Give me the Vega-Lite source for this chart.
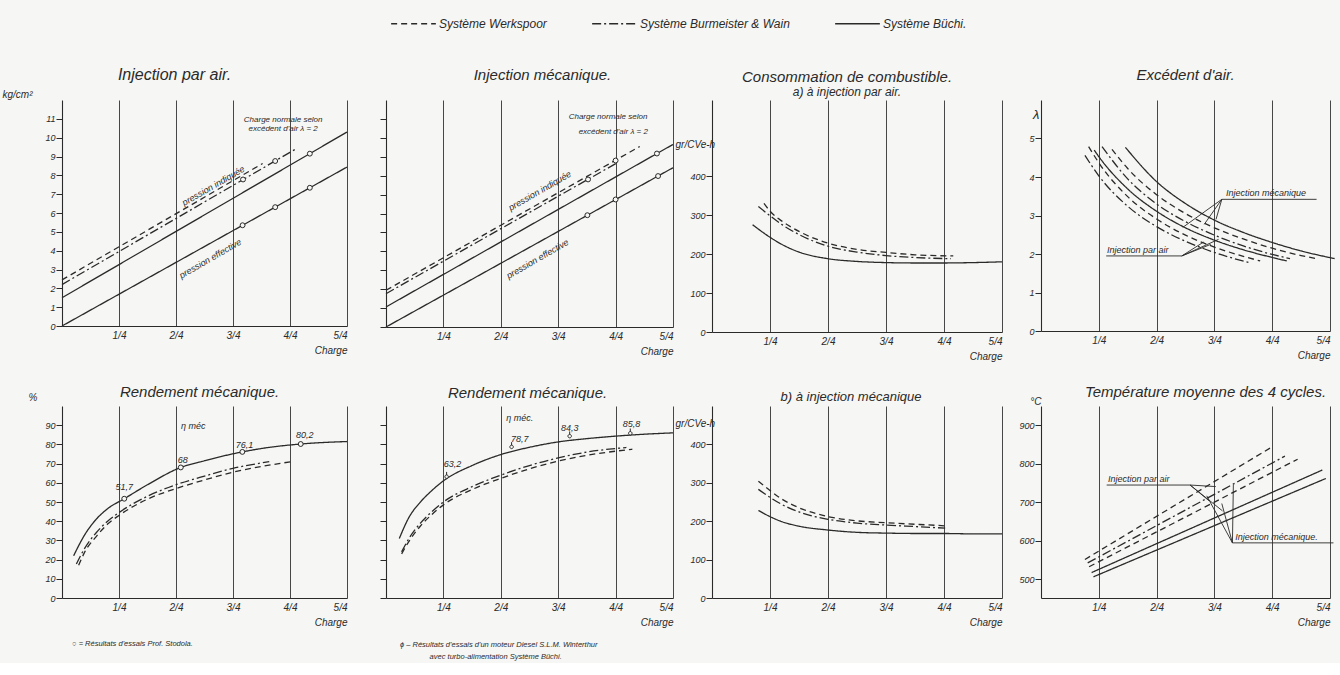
{
  "$schema": "https://vega.github.io/schema/vega-lite/v6.json",
  "background": "#f6f6f4",
  "padding": {"left": 2, "top": 0, "right": 2, "bottom": 2},
  "config": {
    "font": "Liberation Sans",
    "view": {"stroke": null},
    "title": {"fontSize": 15, "fontStyle": "italic", "fontWeight": "normal", "color": "#2a2a2a", "frame": "group", "anchor": "middle", "subtitleFontStyle": "italic", "subtitleFontSize": 12, "subtitleColor": "#2a2a2a", "subtitlePadding": 2},
    "axis": {"domainColor": "#2a2a2a", "domainWidth": 1.1, "tickColor": "#2a2a2a", "tickWidth": 1, "labelFontStyle": "italic", "labelColor": "#2a2a2a", "titleFontStyle": "italic", "titleFontWeight": "normal", "titleColor": "#2a2a2a", "gridColor": "#333333", "gridWidth": 0.9, "gridOpacity": 1},
    "axisX": {"grid": true, "ticks": false, "labelFontSize": 10, "labelPadding": 4, "titleFontSize": 10, "titleAnchor": "end", "titleAlign": "right", "titlePadding": 5},
    "axisY": {"grid": false, "tickSize": 6, "labelFontSize": 9, "labelPadding": 1, "titleAngle": 0, "titleAlign": "left", "titleBaseline": "alphabetic", "titleFontSize": 10},
    "line": {"color": "#2a2a2a", "strokeWidth": 1.3, "interpolate": "monotone"},
    "rule": {"color": "#2a2a2a", "strokeWidth": 0.9},
    "text": {"color": "#2a2a2a", "fontStyle": "italic", "fontSize": 9},
    "point": {"shape": "circle", "size": 24, "filled": true, "fill": "#f6f6f4", "stroke": "#2a2a2a", "strokeWidth": 1, "opacity": 1},
    "legend": {"orient": "none", "legendX": 328, "legendY": -100, "direction": "horizontal", "symbolType": "stroke", "symbolSize": 2000, "symbolStrokeWidth": 1.3, "symbolStrokeColor": "#2a2a2a", "labelFontStyle": "italic", "labelFontSize": 12, "labelColor": "#2a2a2a", "columnPadding": 42, "labelOffset": 2}
  },
  "datasets": {
    "l1": [
      {"c": "a", "s": "Système Werkspoor", "x": 0, "y": 2.45}, {"c": "a", "s": "Système Werkspoor", "x": 0.88, "y": 8.63},
      {"c": "b", "s": "Système Burmeister & Wain", "x": 0, "y": 2.2}, {"c": "b", "s": "Système Burmeister & Wain", "x": 1.03, "y": 9.43},
      {"c": "c", "s": "Système Büchi.", "x": 0, "y": 1.5}, {"c": "c", "s": "Système Büchi.", "x": 1.25, "y": 10.3},
      {"c": "d", "s": "Système Büchi.", "x": 0, "y": 0}, {"c": "d", "s": "Système Büchi.", "x": 1.25, "y": 8.44}
    ],
    "m1": [{"x": 0.794, "y": 7.78}, {"x": 0.935, "y": 8.76}, {"x": 1.087, "y": 9.15}, {"x": 0.792, "y": 5.35}, {"x": 0.935, "y": 6.31}, {"x": 1.087, "y": 7.34}],
    "r1": [{"x": 0.664, "y": 7.45, "t": "pression indiquée"}, {"x": 0.65, "y": 3.58, "t": "pression effective"}],
    "n1": [{"x": 0.97, "y": 10.96, "t": "Charge normale selon"}, {"x": 0.97, "y": 10.48, "t": "excédent d'air λ = 2"}],
    "l2": [
      {"c": "a", "s": "Système Werkspoor", "x": 0, "y": 1.94}, {"c": "a", "s": "Système Werkspoor", "x": 1.105, "y": 9.54},
      {"c": "b", "s": "Système Burmeister & Wain", "x": 0, "y": 1.76}, {"c": "b", "s": "Système Burmeister & Wain", "x": 1.01, "y": 8.7},
      {"c": "c", "s": "Système Büchi.", "x": 0, "y": 1.06}, {"c": "c", "s": "Système Büchi.", "x": 1.25, "y": 9.65},
      {"c": "d", "s": "Système Büchi.", "x": 0, "y": 0}, {"c": "d", "s": "Système Büchi.", "x": 1.25, "y": 8.42}
    ],
    "m2": [{"x": 0.88, "y": 7.8}, {"x": 1.0, "y": 8.8}, {"x": 1.18, "y": 9.17}, {"x": 0.877, "y": 5.91}, {"x": 1.0, "y": 6.74}, {"x": 1.185, "y": 7.98}],
    "r2": [{"x": 0.67, "y": 7.2, "t": "pression indiquée"}, {"x": 0.66, "y": 3.6, "t": "pression effective"}],
    "n2": [{"x": 0.967, "y": 11.1, "t": "Charge normale selon"}, {"x": 0.99, "y": 10.33, "t": "excédent d'air λ = 2"}],
    "l3": [
      {"c": "a", "s": "Système Werkspoor", "x": 0.224, "y": 330}, {"c": "a", "s": "Système Werkspoor", "x": 0.25, "y": 310}, {"c": "a", "s": "Système Werkspoor", "x": 0.3, "y": 285}, {"c": "a", "s": "Système Werkspoor", "x": 0.375, "y": 258}, {"c": "a", "s": "Système Werkspoor", "x": 0.5, "y": 228}, {"c": "a", "s": "Système Werkspoor", "x": 0.625, "y": 212}, {"c": "a", "s": "Système Werkspoor", "x": 0.75, "y": 204}, {"c": "a", "s": "Système Werkspoor", "x": 0.875, "y": 198}, {"c": "a", "s": "Système Werkspoor", "x": 1.04, "y": 195},
      {"c": "b", "s": "Système Burmeister & Wain", "x": 0.2, "y": 322}, {"c": "b", "s": "Système Burmeister & Wain", "x": 0.25, "y": 298}, {"c": "b", "s": "Système Burmeister & Wain", "x": 0.3, "y": 276}, {"c": "b", "s": "Système Burmeister & Wain", "x": 0.375, "y": 250}, {"c": "b", "s": "Système Burmeister & Wain", "x": 0.5, "y": 220}, {"c": "b", "s": "Système Burmeister & Wain", "x": 0.625, "y": 205}, {"c": "b", "s": "Système Burmeister & Wain", "x": 0.75, "y": 196}, {"c": "b", "s": "Système Burmeister & Wain", "x": 0.875, "y": 191}, {"c": "b", "s": "Système Burmeister & Wain", "x": 1.03, "y": 188},
      {"c": "c", "s": "Système Büchi.", "x": 0.175, "y": 275}, {"c": "c", "s": "Système Büchi.", "x": 0.25, "y": 243}, {"c": "c", "s": "Système Büchi.", "x": 0.3, "y": 225}, {"c": "c", "s": "Système Büchi.", "x": 0.375, "y": 205}, {"c": "c", "s": "Système Büchi.", "x": 0.5, "y": 188}, {"c": "c", "s": "Système Büchi.", "x": 0.625, "y": 181}, {"c": "c", "s": "Système Büchi.", "x": 0.75, "y": 178}, {"c": "c", "s": "Système Büchi.", "x": 0.875, "y": 177}, {"c": "c", "s": "Système Büchi.", "x": 1.0, "y": 177}, {"c": "c", "s": "Système Büchi.", "x": 1.125, "y": 178}, {"c": "c", "s": "Système Büchi.", "x": 1.25, "y": 180}
    ],
    "l4": [
      {"c": "a", "s": "Système Burmeister & Wain", "x": 0.19, "y": 4.56}, {"c": "a", "s": "Système Burmeister & Wain", "x": 0.25, "y": 4.03}, {"c": "a", "s": "Système Burmeister & Wain", "x": 0.375, "y": 3.24}, {"c": "a", "s": "Système Burmeister & Wain", "x": 0.5, "y": 2.71}, {"c": "a", "s": "Système Burmeister & Wain", "x": 0.625, "y": 2.33}, {"c": "a", "s": "Système Burmeister & Wain", "x": 0.75, "y": 2.04}, {"c": "a", "s": "Système Burmeister & Wain", "x": 0.897, "y": 1.78},
      {"c": "b", "s": "Système Werkspoor", "x": 0.206, "y": 4.79}, {"c": "b", "s": "Système Werkspoor", "x": 0.25, "y": 4.37}, {"c": "b", "s": "Système Werkspoor", "x": 0.375, "y": 3.49}, {"c": "b", "s": "Système Werkspoor", "x": 0.5, "y": 2.91}, {"c": "b", "s": "Système Werkspoor", "x": 0.625, "y": 2.49}, {"c": "b", "s": "Système Werkspoor", "x": 0.75, "y": 2.18}, {"c": "b", "s": "Système Werkspoor", "x": 0.875, "y": 1.94}, {"c": "b", "s": "Système Werkspoor", "x": 0.948, "y": 1.82},
      {"c": "c", "s": "Système Büchi.", "x": 0.23, "y": 4.7}, {"c": "c", "s": "Système Büchi.", "x": 0.25, "y": 4.53}, {"c": "c", "s": "Système Büchi.", "x": 0.375, "y": 3.69}, {"c": "c", "s": "Système Büchi.", "x": 0.5, "y": 3.11}, {"c": "c", "s": "Système Büchi.", "x": 0.625, "y": 2.68}, {"c": "c", "s": "Système Büchi.", "x": 0.75, "y": 2.36}, {"c": "c", "s": "Système Büchi.", "x": 0.875, "y": 2.11}, {"c": "c", "s": "Système Büchi.", "x": 1.0, "y": 1.91}, {"c": "c", "s": "Système Büchi.", "x": 1.063, "y": 1.82},
      {"c": "d", "s": "Système Burmeister & Wain", "x": 0.264, "y": 4.79}, {"c": "d", "s": "Système Burmeister & Wain", "x": 0.375, "y": 3.95}, {"c": "d", "s": "Système Burmeister & Wain", "x": 0.5, "y": 3.3}, {"c": "d", "s": "Système Burmeister & Wain", "x": 0.625, "y": 2.84}, {"c": "d", "s": "Système Burmeister & Wain", "x": 0.75, "y": 2.49}, {"c": "d", "s": "Système Burmeister & Wain", "x": 0.875, "y": 2.21}, {"c": "d", "s": "Système Burmeister & Wain", "x": 1.0, "y": 1.99}, {"c": "d", "s": "Système Burmeister & Wain", "x": 1.077, "y": 1.88},
      {"c": "e", "s": "Système Werkspoor", "x": 0.307, "y": 4.72}, {"c": "e", "s": "Système Werkspoor", "x": 0.375, "y": 4.22}, {"c": "e", "s": "Système Werkspoor", "x": 0.5, "y": 3.54}, {"c": "e", "s": "Système Werkspoor", "x": 0.625, "y": 3.05}, {"c": "e", "s": "Système Werkspoor", "x": 0.75, "y": 2.68}, {"c": "e", "s": "Système Werkspoor", "x": 0.875, "y": 2.39}, {"c": "e", "s": "Système Werkspoor", "x": 1.0, "y": 2.15}, {"c": "e", "s": "Système Werkspoor", "x": 1.125, "y": 1.96}, {"c": "e", "s": "Système Werkspoor", "x": 1.2, "y": 1.87},
      {"c": "f", "s": "Système Büchi.", "x": 0.365, "y": 4.77}, {"c": "f", "s": "Système Büchi.", "x": 0.5, "y": 3.88}, {"c": "f", "s": "Système Büchi.", "x": 0.625, "y": 3.31}, {"c": "f", "s": "Système Büchi.", "x": 0.75, "y": 2.88}, {"c": "f", "s": "Système Büchi.", "x": 0.875, "y": 2.56}, {"c": "f", "s": "Système Büchi.", "x": 1.0, "y": 2.3}, {"c": "f", "s": "Système Büchi.", "x": 1.125, "y": 2.08}, {"c": "f", "s": "Système Büchi.", "x": 1.27, "y": 1.88}
    ],
    "g4": [
      {"x": 0.782, "y": 3.42, "x2": 1.192, "y2": 3.42}, {"x": 0.782, "y": 3.42, "x2": 0.613, "y2": 2.69}, {"x": 0.782, "y": 3.42, "x2": 0.706, "y2": 2.77}, {"x": 0.782, "y": 3.42, "x2": 0.757, "y2": 2.9},
      {"x": 0.282, "y": 1.95, "x2": 0.609, "y2": 1.95}, {"x": 0.609, "y": 1.95, "x2": 0.703, "y2": 2.31}, {"x": 0.609, "y": 1.95, "x2": 0.734, "y2": 2.25}, {"x": 0.609, "y": 1.95, "x2": 0.768, "y2": 2.38}
    ],
    "n4": [{"x": 0.8, "y": 3.45, "t": "Injection mécanique"}, {"x": 0.285, "y": 1.98, "t": "Injection par air"}],
    "l5": [
      {"c": "a", "s": "Système Büchi.", "x": 0.051, "y": 22}, {"c": "a", "s": "Système Büchi.", "x": 0.1, "y": 33}, {"c": "a", "s": "Système Büchi.", "x": 0.15, "y": 41}, {"c": "a", "s": "Système Büchi.", "x": 0.2, "y": 46.5}, {"c": "a", "s": "Système Büchi.", "x": 0.273, "y": 51.7}, {"c": "a", "s": "Système Büchi.", "x": 0.375, "y": 59}, {"c": "a", "s": "Système Büchi.", "x": 0.521, "y": 68}, {"c": "a", "s": "Système Büchi.", "x": 0.625, "y": 71.5}, {"c": "a", "s": "Système Büchi.", "x": 0.791, "y": 76.1}, {"c": "a", "s": "Système Büchi.", "x": 0.9, "y": 78.3}, {"c": "a", "s": "Système Büchi.", "x": 1.047, "y": 80.2}, {"c": "a", "s": "Système Büchi.", "x": 1.25, "y": 81.5},
      {"c": "b", "s": "Système Burmeister & Wain", "x": 0.063, "y": 17.7}, {"c": "b", "s": "Système Burmeister & Wain", "x": 0.1, "y": 26}, {"c": "b", "s": "Système Burmeister & Wain", "x": 0.15, "y": 34}, {"c": "b", "s": "Système Burmeister & Wain", "x": 0.2, "y": 40}, {"c": "b", "s": "Système Burmeister & Wain", "x": 0.25, "y": 44.5}, {"c": "b", "s": "Système Burmeister & Wain", "x": 0.375, "y": 53}, {"c": "b", "s": "Système Burmeister & Wain", "x": 0.5, "y": 59}, {"c": "b", "s": "Système Burmeister & Wain", "x": 0.625, "y": 63.5}, {"c": "b", "s": "Système Burmeister & Wain", "x": 0.75, "y": 67.5}, {"c": "b", "s": "Système Burmeister & Wain", "x": 0.909, "y": 71},
      {"c": "c", "s": "Système Werkspoor", "x": 0.073, "y": 17}, {"c": "c", "s": "Système Werkspoor", "x": 0.1, "y": 24}, {"c": "c", "s": "Système Werkspoor", "x": 0.15, "y": 32}, {"c": "c", "s": "Système Werkspoor", "x": 0.2, "y": 38.5}, {"c": "c", "s": "Système Werkspoor", "x": 0.25, "y": 43}, {"c": "c", "s": "Système Werkspoor", "x": 0.375, "y": 51.5}, {"c": "c", "s": "Système Werkspoor", "x": 0.5, "y": 57}, {"c": "c", "s": "Système Werkspoor", "x": 0.625, "y": 61.5}, {"c": "c", "s": "Système Werkspoor", "x": 0.75, "y": 65.5}, {"c": "c", "s": "Système Werkspoor", "x": 0.875, "y": 68.5}, {"c": "c", "s": "Système Werkspoor", "x": 1.006, "y": 71}
    ],
    "m5": [{"x": 0.273, "y": 51.7}, {"x": 0.521, "y": 68}, {"x": 0.791, "y": 76.1}, {"x": 1.047, "y": 80.2}],
    "n5": [{"x": 0.273, "y": 57.6, "t": "51,7"}, {"x": 0.53, "y": 71.8, "t": "68"}, {"x": 0.8, "y": 79.8, "t": "76,1"}, {"x": 1.065, "y": 84.8, "t": "80,2"}, {"x": 0.576, "y": 89.6, "t": "η méc"}],
    "f5": [{"x": 0.044, "y": -24, "t": "○ = Résultats d'essais Prof. Stodola."}],
    "l6": [
      {"c": "a", "s": "Système Büchi.", "x": 0.058, "y": 31}, {"c": "a", "s": "Système Büchi.", "x": 0.1, "y": 42}, {"c": "a", "s": "Système Büchi.", "x": 0.15, "y": 50}, {"c": "a", "s": "Système Büchi.", "x": 0.2, "y": 56}, {"c": "a", "s": "Système Büchi.", "x": 0.25, "y": 61}, {"c": "a", "s": "Système Büchi.", "x": 0.375, "y": 69}, {"c": "a", "s": "Système Büchi.", "x": 0.5, "y": 74.7}, {"c": "a", "s": "Système Büchi.", "x": 0.625, "y": 78.5}, {"c": "a", "s": "Système Büchi.", "x": 0.75, "y": 81.3}, {"c": "a", "s": "Système Büchi.", "x": 0.875, "y": 83}, {"c": "a", "s": "Système Büchi.", "x": 1.0, "y": 84.3}, {"c": "a", "s": "Système Büchi.", "x": 1.125, "y": 85.3}, {"c": "a", "s": "Système Büchi.", "x": 1.25, "y": 86},
      {"c": "b", "s": "Système Burmeister & Wain", "x": 0.068, "y": 24}, {"c": "b", "s": "Système Burmeister & Wain", "x": 0.1, "y": 31}, {"c": "b", "s": "Système Burmeister & Wain", "x": 0.15, "y": 39}, {"c": "b", "s": "Système Burmeister & Wain", "x": 0.2, "y": 45}, {"c": "b", "s": "Système Burmeister & Wain", "x": 0.25, "y": 50}, {"c": "b", "s": "Système Burmeister & Wain", "x": 0.375, "y": 58}, {"c": "b", "s": "Système Burmeister & Wain", "x": 0.5, "y": 64}, {"c": "b", "s": "Système Burmeister & Wain", "x": 0.625, "y": 69}, {"c": "b", "s": "Système Burmeister & Wain", "x": 0.75, "y": 73}, {"c": "b", "s": "Système Burmeister & Wain", "x": 0.875, "y": 76}, {"c": "b", "s": "Système Burmeister & Wain", "x": 1.047, "y": 78.4},
      {"c": "c", "s": "Système Werkspoor", "x": 0.068, "y": 23}, {"c": "c", "s": "Système Werkspoor", "x": 0.1, "y": 29.5}, {"c": "c", "s": "Système Werkspoor", "x": 0.15, "y": 37.5}, {"c": "c", "s": "Système Werkspoor", "x": 0.2, "y": 43.5}, {"c": "c", "s": "Système Werkspoor", "x": 0.25, "y": 48.5}, {"c": "c", "s": "Système Werkspoor", "x": 0.375, "y": 56.5}, {"c": "c", "s": "Système Werkspoor", "x": 0.5, "y": 62.3}, {"c": "c", "s": "Système Werkspoor", "x": 0.625, "y": 67.3}, {"c": "c", "s": "Système Werkspoor", "x": 0.75, "y": 71.3}, {"c": "c", "s": "Système Werkspoor", "x": 0.875, "y": 74.3}, {"c": "c", "s": "Système Werkspoor", "x": 1.073, "y": 77.5}
    ],
    "m6": [{"x": 0.264, "y": 63.2}, {"x": 0.547, "y": 78.7}, {"x": 0.8, "y": 84.3}, {"x": 1.064, "y": 85.8}],
    "n6": [{"x": 0.29, "y": 70, "t": "63,2"}, {"x": 0.583, "y": 83, "t": "78,7"}, {"x": 0.8, "y": 88.8, "t": "84,3"}, {"x": 1.069, "y": 90.5, "t": "85,8"}, {"x": 0.583, "y": 93.8, "t": "η méc."}],
    "f6": [{"x": 0.061, "y": -24.5, "t": "ϕ – Résultats d'essais d'un moteur Diesel S.L.M. Winterthur"}, {"x": 0.19, "y": -30.7, "t": "avec turbo-alimentation Système Büchi."}],
    "l7": [
      {"c": "a", "s": "Système Werkspoor", "x": 0.2, "y": 304}, {"c": "a", "s": "Système Werkspoor", "x": 0.25, "y": 280}, {"c": "a", "s": "Système Werkspoor", "x": 0.3, "y": 258}, {"c": "a", "s": "Système Werkspoor", "x": 0.375, "y": 235}, {"c": "a", "s": "Système Werkspoor", "x": 0.5, "y": 212}, {"c": "a", "s": "Système Werkspoor", "x": 0.625, "y": 201}, {"c": "a", "s": "Système Werkspoor", "x": 0.75, "y": 196}, {"c": "a", "s": "Système Werkspoor", "x": 0.875, "y": 192}, {"c": "a", "s": "Système Werkspoor", "x": 1.005, "y": 188},
      {"c": "b", "s": "Système Burmeister & Wain", "x": 0.2, "y": 283}, {"c": "b", "s": "Système Burmeister & Wain", "x": 0.25, "y": 262}, {"c": "b", "s": "Système Burmeister & Wain", "x": 0.3, "y": 244}, {"c": "b", "s": "Système Burmeister & Wain", "x": 0.375, "y": 224}, {"c": "b", "s": "Système Burmeister & Wain", "x": 0.5, "y": 205}, {"c": "b", "s": "Système Burmeister & Wain", "x": 0.625, "y": 195}, {"c": "b", "s": "Système Burmeister & Wain", "x": 0.75, "y": 190}, {"c": "b", "s": "Système Burmeister & Wain", "x": 0.875, "y": 186}, {"c": "b", "s": "Système Burmeister & Wain", "x": 1.005, "y": 182},
      {"c": "c", "s": "Système Büchi.", "x": 0.2, "y": 228}, {"c": "c", "s": "Système Büchi.", "x": 0.25, "y": 212}, {"c": "c", "s": "Système Büchi.", "x": 0.3, "y": 199}, {"c": "c", "s": "Système Büchi.", "x": 0.375, "y": 187}, {"c": "c", "s": "Système Büchi.", "x": 0.5, "y": 177}, {"c": "c", "s": "Système Büchi.", "x": 0.625, "y": 171}, {"c": "c", "s": "Système Büchi.", "x": 0.75, "y": 169}, {"c": "c", "s": "Système Büchi.", "x": 0.875, "y": 168}, {"c": "c", "s": "Système Büchi.", "x": 1.0, "y": 168}, {"c": "c", "s": "Système Büchi.", "x": 1.125, "y": 167}, {"c": "c", "s": "Système Büchi.", "x": 1.25, "y": 167}
    ],
    "l8": [
      {"c": "a", "s": "Système Werkspoor", "x": 0.19, "y": 552}, {"c": "a", "s": "Système Werkspoor", "x": 1.005, "y": 846},
      {"c": "b", "s": "Système Burmeister & Wain", "x": 0.202, "y": 543}, {"c": "b", "s": "Système Burmeister & Wain", "x": 1.055, "y": 820},
      {"c": "c", "s": "Système Werkspoor", "x": 0.208, "y": 533}, {"c": "c", "s": "Système Werkspoor", "x": 1.11, "y": 812},
      {"c": "d", "s": "Système Büchi.", "x": 0.219, "y": 518}, {"c": "d", "s": "Système Büchi.", "x": 1.217, "y": 784},
      {"c": "e", "s": "Système Büchi.", "x": 0.227, "y": 507}, {"c": "e", "s": "Système Büchi.", "x": 1.232, "y": 762}
    ],
    "g8": [
      {"x": 0.284, "y": 745, "x2": 0.645, "y2": 745}, {"x": 0.645, "y": 745, "x2": 0.756, "y2": 741}, {"x": 0.645, "y": 745, "x2": 0.727, "y2": 704}, {"x": 0.645, "y": 745, "x2": 0.785, "y2": 678},
      {"x": 0.828, "y": 595, "x2": 1.265, "y2": 595}, {"x": 0.828, "y": 595, "x2": 0.717, "y2": 717}, {"x": 0.828, "y": 595, "x2": 0.782, "y2": 697}, {"x": 0.828, "y": 595, "x2": 0.832, "y2": 745}
    ],
    "n8": [{"x": 0.29, "y": 748, "t": "Injection par air"}, {"x": 0.84, "y": 598, "t": "Injection mécanique."}]
  },
  "bounds": "flush",
  "spacing": {"row": 74, "column": 39},
  "columns": 4,
  "concat": [
    {
      "width": 285, "height": 226,
      "title": {"text": "Injection par air.", "dx": -30, "offset": 6, "fontSize": 16},
      "encoding": {
        "x": {"field": "x", "type": "quantitative", "scale": {"domain": [0, 1.25], "nice": false}, "axis": {"values": [0.25, 0.5, 0.75, 1, 1.25], "labelExpr": "datum.value*4+'/4'", "title": "Charge"}},
        "y": {"field": "y", "type": "quantitative", "scale": {"domain": [0, 12], "nice": false}, "axis": {"values": [0, 1, 2, 3, 4, 5, 6, 7, 8, 9, 10, 11], "title": "kg/cm²", "titleX": -60, "titleY": -3}}
      },
      "layer": [
        {"data": {"name": "l1"}, "mark": "line", "encoding": {"detail": {"field": "c"}, "strokeDash": {"field": "s", "type": "nominal", "scale": {"domain": ["Système Werkspoor", "Système Burmeister & Wain", "Système Büchi."], "range": [[6, 4], [9, 3, 2, 3], [1, 0]]}, "legend": {"title": null}}}},
        {"data": {"name": "m1"}, "mark": "point"},
        {"data": {"name": "r1"}, "mark": {"type": "text", "angle": -30}, "encoding": {"text": {"field": "t"}}},
        {"data": {"name": "n1"}, "mark": {"type": "text", "fontSize": 8}, "encoding": {"text": {"field": "t"}}}
      ]
    },
    {
      "width": 287, "height": 227,
      "title": {"text": "Injection mécanique.", "dx": 13, "offset": 17},
      "encoding": {
        "x": {"field": "x", "type": "quantitative", "scale": {"domain": [0, 1.25], "nice": false}, "axis": {"values": [0.25, 0.5, 0.75, 1, 1.25], "labelExpr": "datum.value*4+'/4'", "title": "Charge"}},
        "y": {"field": "y", "type": "quantitative", "scale": {"domain": [0, 12], "nice": false}, "axis": {"values": [0, 1, 2, 3, 4, 5, 6, 7, 8, 9, 10, 11], "labels": false, "title": null}}
      },
      "layer": [
        {"data": {"name": "l2"}, "mark": "line", "encoding": {"detail": {"field": "c"}, "strokeDash": {"field": "s", "type": "nominal", "scale": {"domain": ["Système Werkspoor", "Système Burmeister & Wain", "Système Büchi."], "range": [[6, 4], [9, 3, 2, 3], [1, 0]]}, "legend": {"title": null}}}},
        {"data": {"name": "m2"}, "mark": "point"},
        {"data": {"name": "r2"}, "mark": {"type": "text", "angle": -30}, "encoding": {"text": {"field": "t"}}},
        {"data": {"name": "n2"}, "mark": {"type": "text", "fontSize": 8}, "encoding": {"text": {"field": "t"}}}
      ]
    },
    {
      "width": 290, "height": 232,
      "title": {"text": "Consommation de combustible.", "subtitle": "a) à injection par air.", "dx": -10, "offset": 2},
      "encoding": {
        "x": {"field": "x", "type": "quantitative", "scale": {"domain": [0, 1.25], "nice": false}, "axis": {"values": [0.25, 0.5, 0.75, 1, 1.25], "labelExpr": "datum.value*4+'/4'", "title": "Charge"}},
        "y": {"field": "y", "type": "quantitative", "scale": {"domain": [0, 595], "nice": false}, "axis": {"values": [0, 100, 200, 300, 400], "title": "gr/CVe-h", "titleX": -37, "titleY": 47}}
      },
      "layer": [
        {"data": {"name": "l3"}, "mark": "line", "encoding": {"detail": {"field": "c"}, "strokeDash": {"field": "s", "type": "nominal", "scale": {"domain": ["Système Werkspoor", "Système Burmeister & Wain", "Système Büchi."], "range": [[6, 4], [9, 3, 2, 3], [1, 0]]}, "legend": {"title": null}}}}
      ]
    },
    {
      "width": 289, "height": 231,
      "title": {"text": "Excédent d'air.", "dx": 0, "offset": 17},
      "encoding": {
        "x": {"field": "x", "type": "quantitative", "scale": {"domain": [0, 1.25], "nice": false}, "axis": {"values": [0.25, 0.5, 0.75, 1, 1.25], "labelExpr": "datum.value*4+'/4'", "title": "Charge"}},
        "y": {"field": "y", "type": "quantitative", "scale": {"domain": [0, 6], "nice": false}, "axis": {"values": [0, 1, 2, 3, 4, 5], "title": "λ", "titleAlign": "right", "titleX": -2, "titleY": 18, "titleFontSize": 13}}
      },
      "layer": [
        {"data": {"name": "l4"}, "mark": "line", "encoding": {"detail": {"field": "c"}, "strokeDash": {"field": "s", "type": "nominal", "scale": {"domain": ["Système Werkspoor", "Système Burmeister & Wain", "Système Büchi."], "range": [[6, 4], [9, 3, 2, 3], [1, 0]]}, "legend": {"title": null}}}},
        {"data": {"name": "g4"}, "mark": "rule", "encoding": {"x2": {"field": "x2"}, "y2": {"field": "y2"}}},
        {"data": {"name": "n4"}, "mark": {"type": "text", "align": "left", "baseline": "bottom", "fontSize": 9}, "encoding": {"text": {"field": "t"}}}
      ]
    },
    {
      "width": 285, "height": 192,
      "title": {"text": "Rendement mécanique.", "dx": -5, "offset": -8},
      "encoding": {
        "x": {"field": "x", "type": "quantitative", "scale": {"domain": [0, 1.25], "nice": false}, "axis": {"values": [0.25, 0.5, 0.75, 1, 1.25], "labelExpr": "datum.value*4+'/4'", "title": "Charge"}},
        "y": {"field": "y", "type": "quantitative", "scale": {"domain": [0, 100], "nice": false}, "axis": {"values": [0, 10, 20, 30, 40, 50, 60, 70, 80, 90], "title": "%", "titleX": -34, "titleY": -6}}
      },
      "layer": [
        {"data": {"name": "l5"}, "mark": "line", "encoding": {"detail": {"field": "c"}, "strokeDash": {"field": "s", "type": "nominal", "scale": {"domain": ["Système Werkspoor", "Système Burmeister & Wain", "Système Büchi."], "range": [[6, 4], [9, 3, 2, 3], [1, 0]]}, "legend": {"title": null}}}},
        {"data": {"name": "m5"}, "mark": "point"},
        {"data": {"name": "n5"}, "mark": {"type": "text", "fontSize": 9}, "encoding": {"text": {"field": "t"}}},
        {"data": {"name": "f5"}, "mark": {"type": "text", "align": "left", "fontSize": 7.5}, "encoding": {"text": {"field": "t"}}}
      ]
    },
    {
      "width": 287, "height": 192,
      "title": {"text": "Rendement mécanique.", "dx": -2, "offset": 5},
      "encoding": {
        "x": {"field": "x", "type": "quantitative", "scale": {"domain": [0, 1.25], "nice": false}, "axis": {"values": [0.25, 0.5, 0.75, 1, 1.25], "labelExpr": "datum.value*4+'/4'", "title": "Charge"}},
        "y": {"field": "y", "type": "quantitative", "scale": {"domain": [0, 100], "nice": false}, "axis": {"values": [0, 10, 20, 30, 40, 50, 60, 70, 80, 90], "labels": false, "title": null}}
      },
      "layer": [
        {"data": {"name": "l6"}, "mark": "line", "encoding": {"detail": {"field": "c"}, "strokeDash": {"field": "s", "type": "nominal", "scale": {"domain": ["Système Werkspoor", "Système Burmeister & Wain", "Système Büchi."], "range": [[6, 4], [9, 3, 2, 3], [1, 0]]}, "legend": {"title": null}}}},
        {"data": {"name": "m6"}, "mark": {"type": "point", "shape": "M -0.55 0 A 0.55 0.55 0 1 0 0.55 0 A 0.55 0.55 0 1 0 -0.55 0 M 0 -0.55 L 0 -1.5", "size": 40}},
        {"data": {"name": "n6"}, "mark": {"type": "text", "fontSize": 9}, "encoding": {"text": {"field": "t"}}},
        {"data": {"name": "f6"}, "mark": {"type": "text", "align": "left", "fontSize": 7.5}, "encoding": {"text": {"field": "t"}}}
      ]
    },
    {
      "width": 290, "height": 192,
      "title": {"text": "b) à injection mécanique", "dx": -6, "offset": 2, "fontSize": 13},
      "encoding": {
        "x": {"field": "x", "type": "quantitative", "scale": {"domain": [0, 1.25], "nice": false}, "axis": {"values": [0.25, 0.5, 0.75, 1, 1.25], "labelExpr": "datum.value*4+'/4'", "title": "Charge"}},
        "y": {"field": "y", "type": "quantitative", "scale": {"domain": [0, 500], "nice": false}, "axis": {"values": [0, 100, 200, 300, 400], "title": "gr/CVe-h", "titleX": -37, "titleY": 20}}
      },
      "layer": [
        {"data": {"name": "l7"}, "mark": "line", "encoding": {"detail": {"field": "c"}, "strokeDash": {"field": "s", "type": "nominal", "scale": {"domain": ["Système Werkspoor", "Système Burmeister & Wain", "Système Büchi."], "range": [[6, 4], [9, 3, 2, 3], [1, 0]]}, "legend": {"title": null}}}}
      ]
    },
    {
      "width": 289, "height": 192,
      "title": {"text": "Température moyenne des 4 cycles.", "dx": 20, "offset": -4},
      "encoding": {
        "x": {"field": "x", "type": "quantitative", "scale": {"domain": [0, 1.25], "nice": false}, "axis": {"values": [0.25, 0.5, 0.75, 1, 1.25], "labelExpr": "datum.value*4+'/4'", "title": "Charge"}},
        "y": {"field": "y", "type": "quantitative", "scale": {"domain": [452, 950], "nice": false, "zero": false}, "axis": {"values": [500, 600, 700, 800, 900], "title": "°C", "titleAlign": "right", "titleX": 0, "titleY": -2}}
      },
      "layer": [
        {"data": {"name": "l8"}, "mark": "line", "encoding": {"detail": {"field": "c"}, "strokeDash": {"field": "s", "type": "nominal", "scale": {"domain": ["Système Werkspoor", "Système Burmeister & Wain", "Système Büchi."], "range": [[6, 4], [9, 3, 2, 3], [1, 0]]}, "legend": {"title": null}}}},
        {"data": {"name": "g8"}, "mark": "rule", "encoding": {"x2": {"field": "x2"}, "y2": {"field": "y2"}}},
        {"data": {"name": "n8"}, "mark": {"type": "text", "align": "left", "baseline": "bottom", "fontSize": 9}, "encoding": {"text": {"field": "t"}}}
      ]
    }
  ]
}
